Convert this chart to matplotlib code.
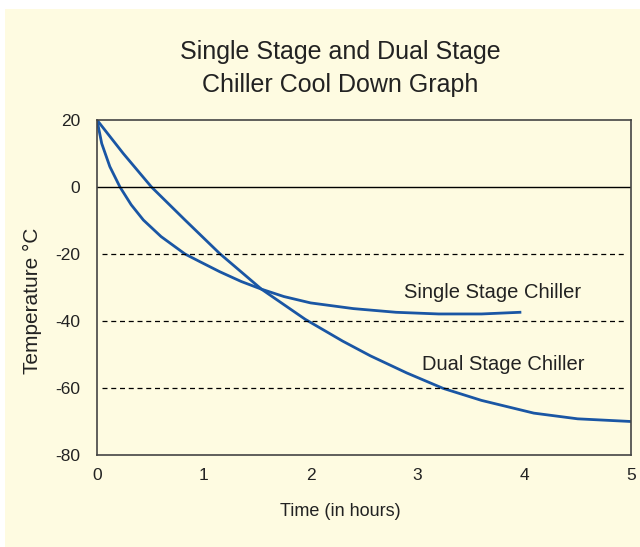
import matplotlib.pyplot as plt
from matplotlib.patches import Rectangle

# curves
single_t = [0, 0.044, 0.12, 0.215, 0.32, 0.434, 0.6, 0.824, 0.964, 1.15, 1.35, 1.54, 1.75,
            2.0, 2.4, 2.8, 3.2, 3.6, 3.96]
single_temp = [20, 13, 6.1, 0, -5.3, -9.85, -14.8, -20, -22.3, -25.3, -28.2, -30.5, -32.7,
               -34.6, -36.3, -37.4, -37.9, -37.9, -37.4]

dual_t = [0, 0.246, 0.51, 0.824, 1.15, 1.54, 1.95, 2.3, 2.56, 2.9, 3.24, 3.6, 4.09, 4.5, 5.0]
dual_temp = [20, 10, 0, -9.85, -19.9, -30.5, -39.5, -46, -50.4, -55.5, -60.1, -63.7, -67.5,
             -69.2, -70.0]

x_ticks = [0, 1, 2, 3, 4, 5]
y_ticks = [-80, -60, -40, -20, 0, 20]
dashed_levels = [-20, -40, -60]

bg = "#fefbe1"
blue = "#1a56a4"
ink = "#222222"
plt.rcParams['font.family'] = ['Liberation Sans', 'DejaVu Sans']
plt.rcParams['axes.unicode_minus'] = False

fig = plt.figure(figsize=(6.4, 5.47), dpi=100, facecolor="white")
# pale yellow panel, with a thin white margin top and left
fig.add_artist(Rectangle((5 / 640, 0), 1, 1 - 9 / 547, transform=fig.transFigure,
                         facecolor=bg, edgecolor="none", zorder=-5))
ax = fig.add_axes([97 / 640, 1 - 455 / 547, (631 - 97) / 640, (455 - 120) / 547])
ax.set_facecolor(bg)

ax.plot(single_t, single_temp, color=blue, lw=2, solid_joinstyle="round")
ax.plot(dual_t, dual_temp, color=blue, lw=2, solid_joinstyle="round")

ax.axhline(0, color="black", lw=1)
for lv in dashed_levels:
    ax.axhline(lv, xmin=0.01, xmax=0.99, color="black", lw=0.9, dashes=(4, 3))

ax.set_xlim(0, 5)
ax.set_ylim(-80, 20)
ax.set_xticks(x_ticks)
ax.set_yticks(y_ticks)
ax.tick_params(length=0, labelsize=12.5, colors=ink)
ax.tick_params(axis="y", pad=12)
ax.tick_params(axis="x", pad=9)
for s in ax.spines.values():
    s.set_color("#444444")
    s.set_linewidth(1.2)

ax.text(3.70, -31.6, "Single Stage Chiller", ha="center", va="center", fontsize=14.5, color=ink)
ax.text(3.80, -53.1, "Dual Stage Chiller", ha="center", va="center", fontsize=14.5, color=ink)

fig.text(340 / 640, 1 - 68.5 / 547, "Single Stage and Dual Stage\nChiller Cool Down Graph",
         ha="center", va="center", fontsize=18, color=ink, linespacing=1.45)
fig.text(340 / 640, 1 - 511 / 547, "Time (in hours)", ha="center", va="center", fontsize=13, color=ink)
fig.text(32 / 640, 1 - 301 / 547, "Temperature °C", ha="center", va="center", rotation=90,
         fontsize=15, color=ink)

fig.savefig("out.png", dpi=100, facecolor=fig.get_facecolor())
